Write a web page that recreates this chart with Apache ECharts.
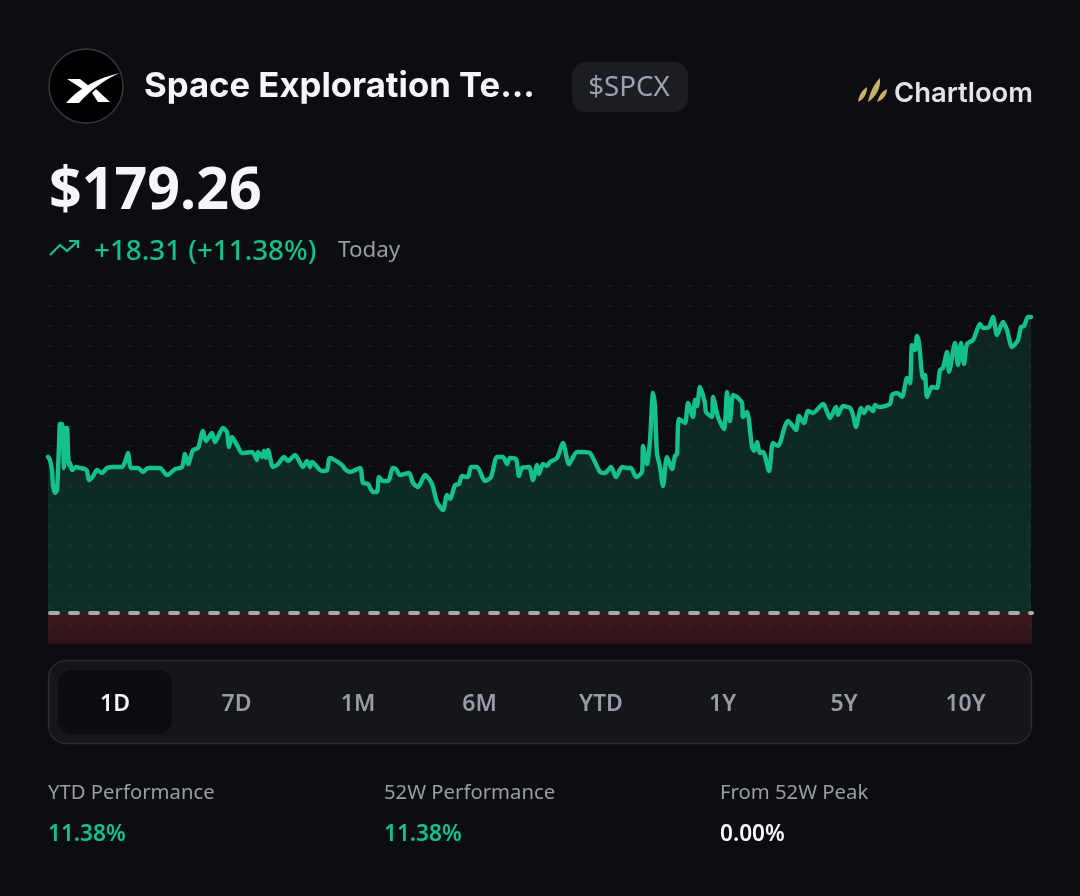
<!DOCTYPE html>
<html><head><meta charset="utf-8">
<style>html,body{margin:0;padding:0;background:#0c0d11}#c{width:1080px;height:896px}</style>
<script src="https://cdn.jsdelivr.net/npm/echarts@6/dist/echarts.min.js"></script>
</head><body><div id="c"></div>
<script>
const ticks=[0,2,4,5,7,9,10,11,12,14,15,16,17,18,19,20,21,22,24,28,32,37,39,41,45,49,54,59,66,74,77,80,83,90,95,100,112,119,127,134,137,140,145,150,155,158,164,167,175,179,181,184,189,194,204,209,210,214,216,218,220,225,230,236,240,247,255,259,262,264,274,279,282,294,297,302,312,315,320,325,329,331,335,340,345,348,352,361,365,370,377,384,389,395,399,402,407,411,414,420,423,429,437,443,449,455,459,462,468,471,474,481,485,489,491,495,499,502,509,515,521,529,535,542,552,557,563,568,574,579,583,588,594,595,599,602,605,607,609,612,615,619,624,627,629,631,637,640,645,647,649,652,657,658,664,665,670,676,679,682,685,689,694,695,699,704,706,709,712,715,721,725,730,737,740,744,748,751,756,760,765,775,782,788,790,795,802,805,808,813,816,820,825,827,831,842,844,849,854,859,862,864,867,869,871,875,877,879,884,889,892,895,899,901,907,910,913,916,919,925,929,932,935,941,945,949,955,959,964,970,973,976,980,983];
const prices=[170.60,170.41,169.79,168.86,168.37,168.56,169.79,171.34,172.64,172.64,171.65,169.92,170.72,172.39,172.39,171.03,170.10,170.23,169.79,169.98,169.92,169.85,169.73,169.17,169.42,169.79,169.61,169.92,169.98,169.98,170.29,170.84,169.92,169.92,169.67,169.92,169.92,169.48,169.85,169.98,170.78,170.16,171.03,171.15,172.21,171.59,172.08,171.52,172.39,172.14,171.22,171.83,171.34,170.84,170.91,170.41,170.91,170.60,170.97,170.54,171.03,169.98,170.16,170.60,170.35,170.72,169.98,170.35,169.98,170.29,169.73,169.79,170.54,170.10,169.85,169.67,169.92,168.99,168.93,168.43,168.43,169.36,169.11,169.11,169.92,169.85,169.48,169.61,168.99,168.74,169.48,168.93,167.81,167.32,168.25,168.00,168.86,168.93,169.42,169.36,169.98,169.98,169.11,169.36,170.60,170.60,170.16,170.54,170.47,169.42,169.92,169.98,169.17,170.10,169.55,170.16,170.04,170.29,170.54,171.46,170.16,170.91,170.91,170.84,169.67,169.61,169.98,169.36,169.98,169.92,169.92,169.36,169.67,171.28,170.16,171.65,174.56,173.69,170.84,169.98,168.80,170.60,169.85,170.66,170.78,172.95,172.70,173.94,173.07,174.12,173.75,174.93,173.94,173.38,173.07,174.31,173.07,172.33,174.62,172.82,174.43,174.31,173.94,173.07,173.38,171.22,170.97,171.52,170.84,170.91,169.73,171.46,171.28,172.51,172.82,172.58,172.27,173.13,172.70,173.44,173.32,173.88,173.01,173.69,173.20,173.75,173.63,173.20,172.45,173.63,173.32,173.69,173.44,173.81,173.69,173.88,174.43,174.56,174.31,175.48,175.17,177.53,177.22,178.08,177.65,175.48,175.67,174.31,174.93,174.87,175.98,176.10,177.09,175.86,177.65,176.29,177.65,176.35,177.59,177.83,178.45,178.82,178.58,178.64,179.26,178.14,178.95,178.45,177.40,177.83,178.64,178.70,179.26,179.26];
const previousClose=160.95;
const axisMin=159.03, axisMax=181.36;
const tabLabels=['1D','7D','1M','6M','YTD','1Y','5Y','10Y'];
const statLabels=['YTD Performance','52W Performance','From 52W Peak'];
const statValues=['11.38%','11.38%','0.00%'];

const GREEN='#14c08b', BODY='"Noto Sans",sans-serif';
const txt=(x,y,text,font,fill,align,scaleX)=>({type:'text',x,y,scaleX:scaleX||1,silent:true,z:20,style:{text,font,fill,align:align||'left',verticalAlign:'middle'}});
let shapeId=0;
const pathEl=(d,fill,z)=>{
  const name='deco'+(shapeId++);
  echarts.graphic.registerShape(name,echarts.graphic.extendPath(d,{}));
  return {type:name,z:z||21,silent:true,style:{fill}};
};
const g=[];
// dotted backdrop
for(let x=50;x<1032;x+=20)for(let y=286;y<644;y+=20){
  g.push({type:'circle',z:-5,silent:true,shape:{cx:x,cy:y,r:1},style:{fill:'#25272d'}});
}
// logo
g.push({type:'circle',z:20,shape:{cx:86,cy:86,r:37},style:{fill:'#000',stroke:'#37383b',lineWidth:1.5}});
g.push(pathEl('M66 103 C78 89 97 78 120 73 C103 80 90 91 79 103 Z','#fff'));
g.push({type:'polygon',z:21,shape:{points:[[67,79],[80,79],[89,86],[84,90]]},style:{fill:'#fff'}});
g.push({type:'polygon',z:21,shape:{points:[[92,93],[96,89],[110,102],[98,102]]},style:{fill:'#fff'}});
g.push(txt(144,87,'Space Exploration Te...','700 34.7px Inter,sans-serif','#f5f6f9'));
// ticker pill
g.push({type:'rect',z:20,shape:{x:572,y:62,width:116,height:50,r:14},style:{fill:'#1b1d22'}});
g.push(txt(629,88,'$SPCX','400 27.7px '+BODY,'#9ea2ab','center'));
// brand mark
const GOLD='#c9b06f';
g.push(pathEl('M858 102 C859 95 862 90 867 87 C867 94 864 99 858 102 Z',GOLD));
g.push(pathEl('M868 102 C870 92 874 84 880 78 C881 88 876 97 868 102 Z',GOLD));
g.push(pathEl('M877 102 C879 96 882 91 887 89 C887 95 883 100 877 102 Z',GOLD));
g.push(txt(894,94,'Chartloom','600 27.4px Inter,sans-serif','#e2e4e9'));
// price block
g.push(txt(49,192,'$179.26','700 60px '+BODY,'#f5f6fa','left',0.955));
g.push({type:'polyline',z:20,shape:{points:[[50,255],[60,245],[67,251],[78,241]]},style:{stroke:GREEN,fill:null,lineWidth:2.2}});
g.push({type:'polyline',z:20,shape:{points:[[69,241],[78,241],[78,248]]},style:{stroke:GREEN,fill:null,lineWidth:2.2}});
g.push(txt(94,252,'+18.31 (+11.38%)','500 27.8px '+BODY,GREEN));
g.push(txt(338,251,'Today','400 22.4px '+BODY,'#9a9ca5'));
// tabs
g.push({type:'rect',z:20,shape:{x:48.5,y:660.5,width:983,height:83,r:18},style:{fill:'#15161a',stroke:'#2a2b30',lineWidth:1.5}});
g.push({type:'rect',z:21,shape:{x:58,y:670,width:114,height:64,r:14},style:{fill:'#0b0c0f'}});
tabLabels.forEach((t,i)=>{
  const e=txt(115+i*121.5,704,t,'600 23px '+BODY,i===0?'#f5f6fa':'#9a9ca5','center');e.z=22;g.push(e);
});
// stats
statLabels.forEach((t,i)=>{
  g.push(txt(48+i*336,793.5,t,'400 20.3px '+BODY,'#9a9ca5'));
  g.push(txt(48+i*336,834.5,statValues[i],'600 22.6px '+BODY,i<2?GREEN:'#f5f6fa'));
});

const chart=echarts.init(document.getElementById('c'),null,{renderer:'canvas'});
chart.setOption({
  animation:false,
  backgroundColor:'#0c0d11',
  grid:{left:48,right:48,top:283,height:361},
  xAxis:{type:'value',min:0,max:984,show:false},
  yAxis:{type:'value',min:axisMin,max:axisMax,show:false,scale:true},
  graphic:g,
  series:[{
    type:'line',
    data:ticks.map((t,i)=>[t,prices[i]]),
    showSymbol:false,
    smooth:0.25,
    lineStyle:{color:GREEN,width:4.4,join:'round',cap:'round'},
    areaStyle:{origin:previousClose,opacity:1,color:{type:'linear',x:0,y:0,x2:0,y2:1,colorStops:[
      {offset:0,color:'rgba(19,195,139,0.13)'},{offset:1,color:'rgba(19,195,139,0.19)'}]}},
    markArea:{silent:true,itemStyle:{color:{type:'linear',x:0,y:0,x2:0,y2:1,colorStops:[
      {offset:0,color:'rgba(210,50,60,0.27)'},{offset:1,color:'rgba(210,50,60,0.16)'}]}},
      data:[[{yAxis:axisMin},{yAxis:previousClose}]]},
    markLine:{silent:true,symbol:'none',label:{show:false},
      lineStyle:{color:'#a8aaa5',width:4,type:[8,12],cap:'round',dashOffset:-2},
      data:[{yAxis:previousClose}]}
  }]
});
</script></body></html>
